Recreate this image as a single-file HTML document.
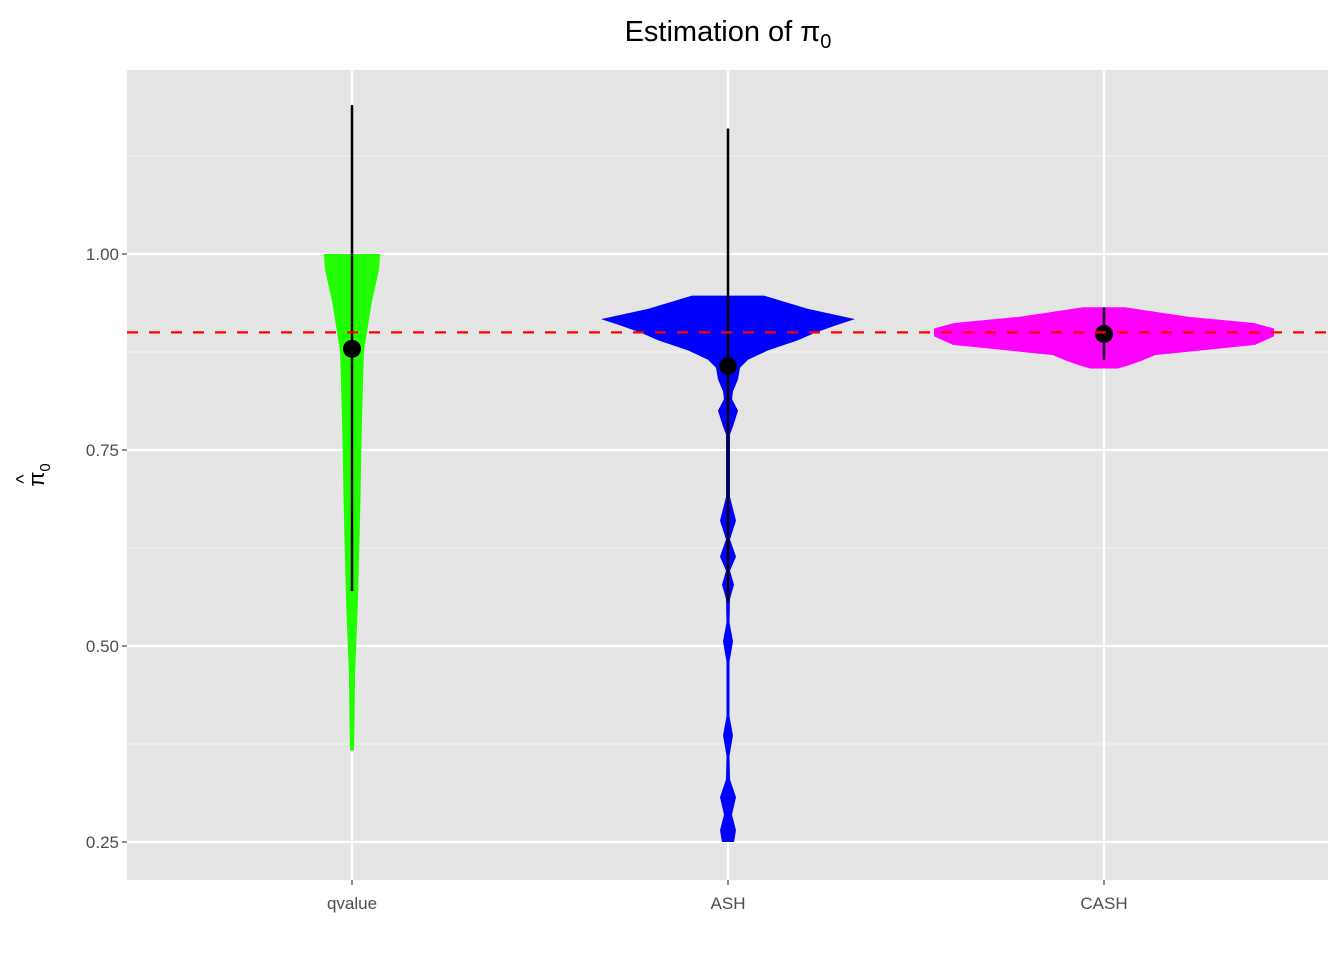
<!DOCTYPE html>
<html><head><meta charset="utf-8"><style>
body{margin:0;background:#fff}
svg{display:block;font-family:"Liberation Sans",Arial,sans-serif}
</style></head><body>
<svg id="chart" width="1344" height="960">
<text x="728" y="41" text-anchor="middle" font-size="29" fill="#000">Estimation of π<tspan font-size="20" dy="7">0</tspan></text>
<rect x="127" y="70" width="1201" height="810" fill="#e5e5e5"/>
<g id="grid"></g><g id="violins"></g><g id="bars"></g><g id="axes"></g>
<g transform="translate(44,475) rotate(-90)">
<text x="0" y="0" text-anchor="middle" font-size="22" fill="#000">π<tspan font-size="15" dy="6">0</tspan></text>
<text x="-4" y="-14" text-anchor="middle" font-size="20" fill="#000">^</text>
</g>
</svg>
<script>
const categories=["qvalue","ASH","CASH"];
const colors=["#22ff00","#0000ff","#ff00ff"];
const yTicks=[0.25,0.50,0.75,1.00];
const yTickLabels=["0.25","0.50","0.75","1.00"];
const trueValue=0.9;
const means=[0.879,0.857,0.898];
const barLow=[0.57,0.556,0.865];
const barHigh=[1.19,1.16,0.932];
// violin profiles: values and half-widths (in density px units)
const qvVals=[0.367,0.40,0.46,0.56,0.66,0.79,0.877,0.94,0.98,1.0];
const qvWidth=[2,2.5,3,6,8,10,12,20,27,28];
const ashVals=[0.25,0.265,0.285,0.307,0.33,0.36,0.386,0.41,0.48,0.506,0.53,0.56,0.578,0.596,0.614,0.636,0.66,0.69,0.77,0.78,0.80,0.815,0.825,0.84,0.855,0.865,0.877,0.89,0.90,0.91,0.917,0.93,0.947];
const ashWidth=[6,8,4,8,2,1.5,5,1.5,1.5,5,1.5,2,6,2,8,2,8,2,2,5,10,4,5,10,12,20,40,70,88,110,127,80,36];
const cashVals=[0.854,0.858,0.864,0.871,0.884,0.895,0.905,0.912,0.92,0.932];
const cashWidth=[14,25,38,51,151,170,170,150,84,21];
const vVals=[qvVals,ashVals,cashVals], vW=[qvWidth,ashWidth,cashWidth];

const NS="http://www.w3.org/2000/svg";
const X0=127,X1=1328,Y0=70,Y1=880;
function xScale(i){return 352+i*376;}
function yScale(v){return 842-(v-0.25)*784;}
function mk(tag,attrs,parent){const e=document.createElementNS(NS,tag);for(const k in attrs)e.setAttribute(k,attrs[k]);parent.appendChild(e);return e;}
const grid=document.getElementById('grid'),vg=document.getElementById('violins'),bg=document.getElementById('bars'),ag=document.getElementById('axes');
// minor grid
for(let i=0;i<yTicks.length-1;i++){const v=(yTicks[i]+yTicks[i+1])/2;
const l=mk('line',{x1:X0,x2:X1,y1:yScale(v),y2:yScale(v),stroke:'#f2f2f2','stroke-width':1.1},grid);

}
{const v=1.125;const l=mk('line',{x1:X0,x2:X1,y1:yScale(v),y2:yScale(v),stroke:'#f2f2f2','stroke-width':1.1},grid);

}
yTicks.forEach((v,i)=>{const y=yScale(v);
const l=mk('line',{x1:X0,x2:X1,y1:y,y2:y,stroke:'#fff','stroke-width':2.2},grid);


const t=mk('line',{x1:X0-5,x2:X0,y1:y,y2:y,stroke:'#333','stroke-width':1.1},ag);


const tx=mk('text',{x:X0-8,y:y+6,'text-anchor':'end','font-size':17,fill:'#4d4d4d'},ag);tx.textContent=yTickLabels[i];

});
categories.forEach((c,i)=>{const x=xScale(i);
const l=mk('line',{x1:x,x2:x,y1:Y0,y2:Y1,stroke:'#fff','stroke-width':2.2},grid);


const t=mk('line',{x1:x,x2:x,y1:Y1,y2:Y1+5,stroke:'#333','stroke-width':1.1},ag);


const tx=mk('text',{x:x,y:Y1+29,'text-anchor':'middle','font-size':17,fill:'#4d4d4d'},ag);tx.textContent=c;


// violin
const vals=vVals[i],w=vW[i];let r=[],lft=[];
for(let k=0;k<vals.length;k++){r.push((x+w[k]).toFixed(1)+','+yScale(vals[k]).toFixed(1));lft.unshift((x-w[k]).toFixed(1)+','+yScale(vals[k]).toFixed(1));}
const p=mk('polygon',{points:r.concat(lft).join(' '),fill:colors[i],'stroke-linejoin':'round'},vg);


const eb=mk('line',{x1:x,x2:x,y1:yScale(barLow[i]),y2:yScale(barHigh[i]),stroke:'#000','stroke-width':2.5},bg);


const pt=mk('circle',{cx:x,cy:yScale(means[i]),r:9,fill:'#000'},bg);

});
const hl=mk('line',{x1:X0,x2:X1,y1:yScale(trueValue),y2:yScale(trueValue),stroke:'#ff0000','stroke-width':2.2,'stroke-dasharray':'11,11'},bg);


</script>
</body></html>
